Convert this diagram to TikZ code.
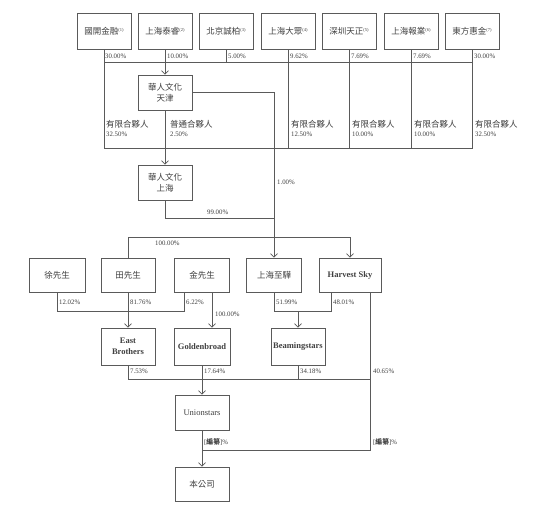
\documentclass[tikz,border=0pt]{standalone}
\usepackage{fontspec}
\setmainfont{Liberation Serif}
\newfontfamily\cjk{Noto Sans CJK TC}
\usetikzlibrary{arrows.meta,calc}
\definecolor{ln}{HTML}{5A5A5A}
\definecolor{tx}{HTML}{404040}
\newcommand\supn[1]{{\rmfamily\raisebox{2.5pt}{\fontsize{4.5}{5}\selectfont(#1)}}}
\begin{document}
\begin{tikzpicture}[x=1pt,y=-1pt,
  box/.style={draw=ln, line width=0.7pt, minimum width=54pt, minimum height=35pt,
    inner sep=1pt, align=center, text=tx, font=\cjk\fontsize{8.5}{11}\selectfont},
  enbox/.style={box, font=\bfseries\fontsize{8.5}{10.5}\selectfont},
  pct/.style={anchor=west, inner sep=0pt, text=tx, font=\fontsize{6.8}{8}\selectfont},
  lp/.style={anchor=west, inner sep=0pt, text=tx, font=\cjk\fontsize{8.5}{9}\selectfont},
  conn/.style={draw=ln, line width=0.7pt},
  arr/.style={conn, -{Straight Barb[length=3.5pt,width=7pt,line width=0.7pt]}}]
\useasboundingbox[fill=white] (0,0) rectangle (554,517);

% top row
\node[box, minimum height=36pt] (gk) at (104,31) {國開金融\supn{1}};
\node[box, minimum height=36pt] (ty) at (165,31) {上海泰睿\supn{2}};
\node[box, minimum height=36pt] (bj) at (226,31) {北京誠柏\supn{3}};
\node[box, minimum height=36pt] (dz) at (288,31) {上海大眾\supn{4}};
\node[box, minimum height=36pt] (sz) at (349,31) {深圳天正\supn{5}};
\node[box, minimum height=36pt] (bs) at (411,31) {上海報業\supn{6}};
\node[box, minimum height=36pt] (df) at (472,31) {東方惠金\supn{7}};

\node[box] (tj) at (165,92.5) {華人文化\\天津};
\node[box] (hs) at (165,182.5) {華人文化\\上海};

% second row
\node[box, minimum width=56pt, minimum height=34pt] (xu) at (57,275) {徐先生};
\node[box, minimum height=34pt] (tian) at (128,275) {田先生};
\node[box, minimum width=55pt, minimum height=34pt] (jin) at (202,275) {金先生};
\node[box, minimum width=55pt, minimum height=34pt] (zh) at (274,275) {上海至驊};
\node[enbox, minimum width=62pt, minimum height=34pt] (hsky) at (350,275) {Harvest Sky};

% third row
\node[enbox, minimum height=37pt] (eb) at (128,346.5) {East\\Brothers};
\node[enbox, minimum width=56pt, minimum height=37pt] (gb) at (202,346.5) {Goldenbroad};
\node[enbox, minimum height=37pt] (bm) at (298,346.5) {Beamingstars};

\node[box, font=\fontsize{8.5}{10.5}\selectfont] (us) at (202,412.5) {Unionstars};
\node[box, minimum height=34pt] (co) at (202,484) {本公司};

% junction coordinates
\coordinate (busT) at (0,62);
\coordinate (busB) at (0,148);
\coordinate (j99) at (274,218);
\coordinate (b100) at (0,237);
\coordinate (k1) at (57,311);
\coordinate (k2) at (184,311);
\coordinate (g1) at (212,0);
\coordinate (m1) at (274,311);
\coordinate (m2) at (331,311);
\coordinate (hx) at (370,0);
\coordinate (u1) at (128,379);
\coordinate (u2) at (370,379);
\coordinate (v1) at (370,450);

% top structure
\draw[conn] (gk.south |- busT) -- (df.south |- busT);
\draw[conn] (gk.south) -- (gk.south |- busB) -- (df.south |- busB) -- (df.south);
\draw[conn] (bj.south) -- (bj.south |- busT);
\draw[conn] (dz.south) -- (dz.south |- busB);
\draw[conn] (sz.south) -- (sz.south |- busB);
\draw[conn] (bs.south) -- (bs.south |- busB);
\draw[arr] (ty.south) -- (tj.north);
\draw[arr] (tj.south) -- (hs.north);

% 天津 -> 上海至驊 and 99%
\draw[arr] (tj.east) -- (tj.east -| zh.north) -- (zh.north);
\draw[conn] (hs.south) |- (j99);
\draw[conn] (tian.north) -- (tian.north |- b100) -- (hsky.north |- b100);
\draw[arr] (hsky.north |- b100) -- (hsky.north);

% second row links
\draw[conn] (xu.south) -- (k1) -- (k2) -- (k2 |- jin.south);
\draw[arr] (tian.south) -- (eb.north);
\draw[arr] (jin.south -| g1) -- (gb.north -| g1);
\draw[conn] (zh.south) -- (m1) -- (m2) -- (m2 |- hsky.south);
\draw[arr] (bm.north |- m1) -- (bm.north);

% third row links
\draw[conn] (eb.south) -- (u1) -- (u2);
\draw[conn] (bm.south) -- (bm.south |- u1);
\draw[arr] (gb.south) -- (us.north);
\draw[conn] (hsky.south -| hx) -- (v1) -- (v1 -| co.north);
\draw[arr] (us.south) -- (co.north);

% labels top
\node[pct] at (105,56.5) {30.00\%};
\node[pct] at (167,56.5) {10.00\%};
\node[pct] at (228,56.5) {5.00\%};
\node[pct] at (290,56.5) {9.62\%};
\node[pct] at (351,56.5) {7.69\%};
\node[pct] at (413,56.5) {7.69\%};
\node[pct] at (474,56.5) {30.00\%};

\node[lp] at (106,124) {有限合夥人};
\node[pct] at (106,134.5) {32.50\%};
\node[lp] at (170,124) {普通合夥人};
\node[pct] at (170,134.5) {2.50\%};
\node[lp] at (291,124) {有限合夥人};
\node[pct] at (291,134.5) {12.50\%};
\node[lp] at (352,124) {有限合夥人};
\node[pct] at (352,134.5) {10.00\%};
\node[lp] at (414,124) {有限合夥人};
\node[pct] at (414,134.5) {10.00\%};
\node[lp] at (475,124) {有限合夥人};
\node[pct] at (475,134.5) {32.50\%};

\node[pct] at (277,182) {1.00\%};
\node[pct] at (207,212) {99.00\%};
\node[pct] at (155,243) {100.00\%};

\node[pct] at (59,302) {12.02\%};
\node[pct] at (130,302) {81.76\%};
\node[pct] at (186,302) {6.22\%};
\node[pct] at (215,314) {100.00\%};
\node[pct] at (276,302) {51.99\%};
\node[pct] at (333,302) {48.01\%};

\node[pct] at (130,371) {7.53\%};
\node[pct] at (204,371) {17.64\%};
\node[pct] at (300,371) {34.18\%};
\node[pct] at (373,371) {40.65\%};

\node[pct] at (204,442) {[{\cjk\bfseries 編纂}]\%};
\node[pct] at (373,442) {[{\cjk\bfseries 編纂}]\%};
\end{tikzpicture}
\end{document}
